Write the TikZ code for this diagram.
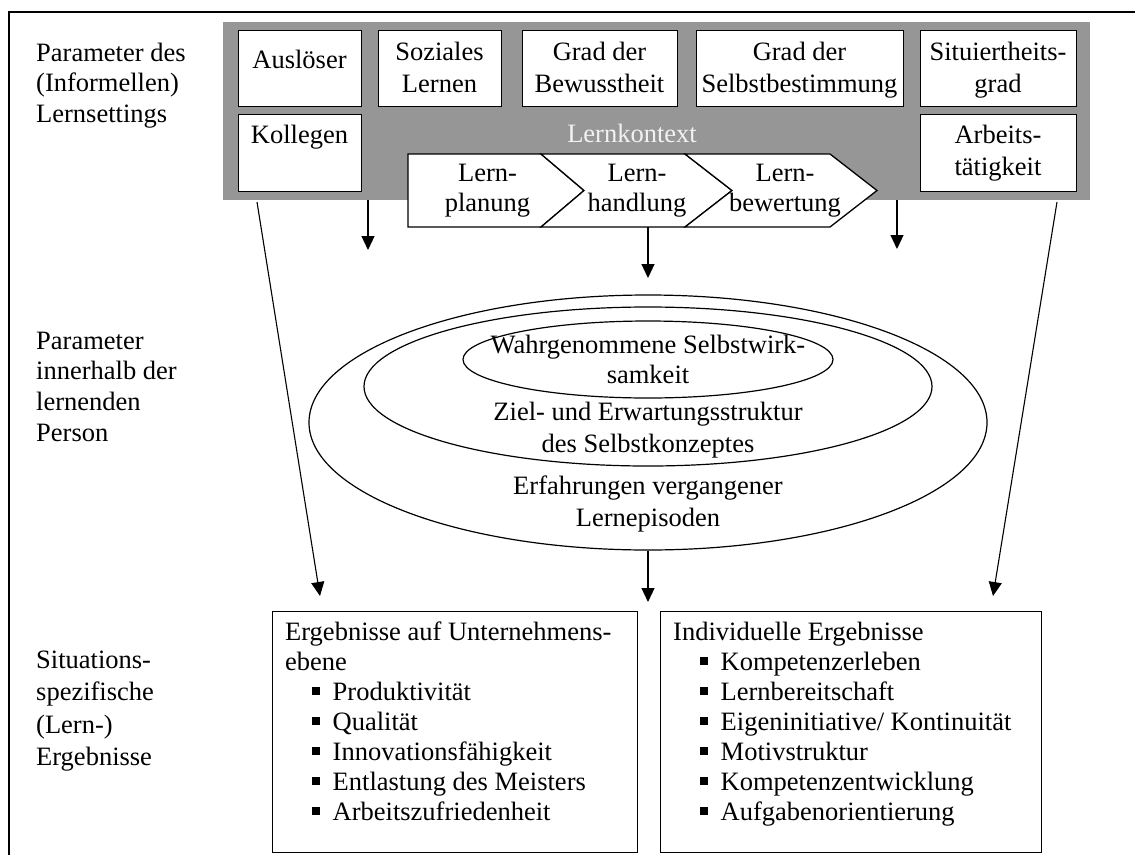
\documentclass[tikz,border=0pt]{standalone}
\usepackage{fontspec}
\setmainfont{Liberation Serif}
\usetikzlibrary{arrows.meta,shapes.geometric}
\definecolor{ctxgray}{RGB}{150,150,150}
\definecolor{ctxtext}{RGB}{242,242,242}
\newcommand\mlc[1]{\begin{tabular}[t]{@{}c@{}}#1\end{tabular}}
\newcommand\mll[1]{\begin{tabular}[t]{@{}l@{}}#1\end{tabular}}
\newcommand\bul{\hspace*{26.5pt}\rule[5.3pt]{8pt}{8pt}\hspace*{13pt}}
\begin{document}
\begin{tikzpicture}[x=1pt,y=-1pt,
  txt/.style={inner sep=0pt, anchor=base, font=\fontsize{26.5}{#1}\selectfont},
  txt/.default=31,
  pbox/.style={draw, line width=1.3pt, fill=white, inner sep=0pt, anchor=north west},
  chev/.style={draw, line width=1.3pt, fill=white, line join=miter},
  frameline/.style={line width=1.2pt},
  conn/.style={line width=1.1pt},
  arr/.style={conn, -{Triangle[width=13pt,length=14pt]}},
  ell/.style={draw, ellipse, line width=1.2pt, inner sep=0pt}]
\useasboundingbox (0,0) rectangle (1135,855);
\fill[white] (0,0) rectangle (1135,855);
% table frame
\draw[frameline] (9,855) -- (9,12) -- (1135,12);
% row labels
\node[txt=30.5, anchor=base west] (lab1) at (36,61) {\mll{Parameter des\\(Informellen)\\Lernsettings}};
\node[txt=30.8, anchor=base west] (lab2) at (36,349) {\mll{Parameter\\innerhalb der\\lernenden\\Person}};
\node[txt=32.6, anchor=base west] (lab3) at (36,668) {\mll{Situations-\\spezifische\\(Lern-)\\Ergebnisse}};
% learning context
\node[fill=ctxgray, minimum width=867pt, minimum height=178pt, inner sep=0pt, anchor=north west] (ctx) at (223,22) {};
\node[pbox, minimum width=123pt, minimum height=76pt] (ausl) at (238,30) {};
\node[pbox, minimum width=123pt, minimum height=76pt] (soz) at (378,30) {};
\node[pbox, minimum width=155pt, minimum height=76pt] (bew) at (522,30) {};
\node[pbox, minimum width=207pt, minimum height=76pt] (selb) at (696,30) {};
\node[pbox, minimum width=156pt, minimum height=76pt] (sit) at (920,30) {};
\node[pbox, minimum width=123pt, minimum height=77pt] (koll) at (238,114) {};
\node[pbox, minimum width=156pt, minimum height=77pt] (arb) at (920,114) {};
\node[txt] (auslT) at (299.5,68) {Auslöser};
\node[txt=32] (sozT) at (439.5,60) {\mlc{Soziales\\Lernen}};
\node[txt=32] (bewT) at (599.5,60) {\mlc{Grad der\\Bewusstheit}};
\node[txt=32] (selbT) at (799.5,60) {\mlc{Grad der\\Selbstbestimmung}};
\node[txt=32] (sitT) at (998,60) {\mlc{Situiertheits-\\grad}};
\node[txt] (kollT) at (299.5,143.5) {Kollegen};
\node[txt=32] (arbT) at (998,143.5) {\mlc{Arbeits-\\tätigkeit}};
\node[txt, text=ctxtext] (ctxT) at (632,142) {Lernkontext};
% process chevrons
\draw[chev] (408,154) -- (541,154) -- (584,190.5) -- (541,227) -- (408,227) -- cycle;
\draw[chev] (541,154) -- (685,154) -- (732,190.5) -- (685,227) -- (541,227) -- (584,190.5) -- cycle;
\draw[chev] (685,154) -- (830,154) -- (877,190.5) -- (830,227) -- (685,227) -- (732,190.5) -- cycle;
\node[txt=30.5] (planT) at (487.5,181) {\mlc{Lern-\\planung}};
\node[txt=30.5] (handT) at (637,181) {\mlc{Lern-\\handlung}};
\node[txt=30.5] (bewtT) at (785,181) {\mlc{Lern-\\bewertung}};
% person ellipses
\node[ell, minimum width=678pt, minimum height=255pt] (outerE) at (648,422.5) {};
\node[ell, minimum width=568pt, minimum height=159pt] (midE) at (648,386.5) {};
\node[ell, minimum width=370pt, minimum height=77pt] (innerE) at (648,359.5) {};
\node[txt=30] (innerT) at (648,353) {\mlc{Wahrgenommene Selbstwirk-\\samkeit}};
\node[txt=32.7] (midT) at (648,420) {\mlc{Ziel- und Erwartungsstruktur\\des Selbstkonzeptes}};
\node[txt=32.7] (outT) at (648,494) {\mlc{Erfahrungen vergangener\\Lernepisoden}};
% result boxes
\node[pbox, minimum width=365pt, minimum height=241pt] (resL) at (272,611) {};
\node[pbox, minimum width=381pt, minimum height=241pt] (resR) at (660,611) {};
\node[txt=30, anchor=base west] (resLT) at (285,640) {\mll{Ergebnisse auf Unternehmens-\\ebene\\\bul Produktivität\\\bul Qualität\\\bul Innovationsfähigkeit\\\bul Entlastung des Meisters\\\bul Arbeitszufriedenheit}};
\node[txt=30, anchor=base west] (resRT) at (673,640) {\mll{Individuelle Ergebnisse\\\bul Kompetenzerleben\\\bul Lernbereitschaft\\\bul Eigeninitiative/ Kontinuität\\\bul Motivstruktur\\\bul Kompetenzentwicklung\\\bul Aufgabenorientierung}};
% connector end points
\coordinate (ctxA) at (368,200);
\coordinate (tipA) at (368,250);
\coordinate (ctxC) at (897,200);
\coordinate (tipC) at (897,249);
\coordinate (handB) at (648,227);
\coordinate (tipB) at (648,278);
\coordinate (kollL) at (257,202);
\coordinate (tipL) at (320,596);
\coordinate (arbR) at (1057,202);
\coordinate (tipR) at (993,596);
\coordinate (tipD) at (648,602);
% connectors
\draw[arr] (ctxA) -- (tipA);
\draw[arr] (ctxC) -- (tipC);
\draw[arr] (handB) -- (tipB);
\draw[arr] (kollL) -- (tipL);
\draw[arr] (arbR) -- (tipR);
\draw[arr] (outerE.south) -- (tipD);
\end{tikzpicture}
\end{document}
